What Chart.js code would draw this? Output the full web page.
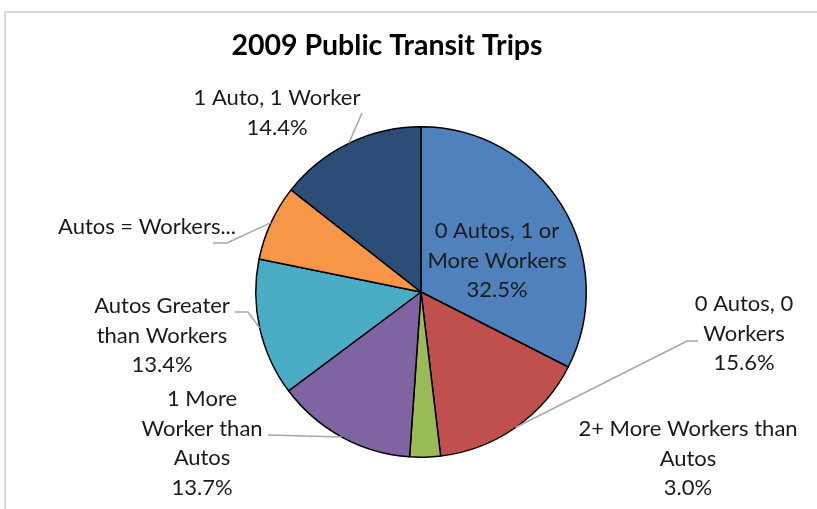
<!DOCTYPE html>
<html>
<head>
<meta charset="utf-8">
<script src="https://cdn.jsdelivr.net/npm/chart.js@4.4.1/dist/chart.umd.min.js"></script>
<style>
  html, body { margin: 0; padding: 0; background: #fff; }
  #wrap { position: relative; width: 817px; height: 509px; }
</style>
</head>
<body>
<div id="wrap"><canvas id="chart" width="817" height="509"></canvas></div>
<script>
const categories = [
  '0 Autos, 1 or More Workers',
  '0 Autos, 0 Workers',
  '2+ More Workers than Autos',
  '1 More Worker than Autos',
  'Autos Greater than Workers',
  'Autos = Workers',
  '1 Auto, 1 Worker'
];
const shares = [32.5, 15.6, 3.0, 13.7, 13.4, 7.4, 14.4];
// label text as wrapped in the picture
const labelLines = [
  ['0 Autos, 1 or', 'More Workers', '32.5%'],
  ['0 Autos, 0', 'Workers', '15.6%'],
  ['2+ More Workers than', 'Autos', '3.0%'],
  ['1 More', 'Worker than', 'Autos', '13.7%'],
  ['Autos Greater', 'than Workers', '13.4%'],
  ['Autos = Workers...'],
  ['1 Auto, 1 Worker', '14.4%']
];
const sliceColors = ['#4F81BD', '#C0504D', '#9BBB59', '#8064A2', '#4BACC6', '#F79646', '#2C4D75'];

// where each label sits (first line centre) and the leader elbow points
const labelLayout = [
  { x: 497, y: 231, leader: null },
  { x: 744, y: 304, leader: [[698, 341], [687, 341]] },
  { x: 688, y: 429, leader: null },
  { x: 202, y: 399, leader: [[268, 435]] },
  { x: 162, y: 306, leader: [[235, 312], [248, 312]] },
  { x: 147, y: 227, leader: [[213, 243], [227, 243]] },
  { x: 277, y: 98, leader: [[362, 113]] }
];

const FONT = 'Lato, "Open Sans", sans-serif';

const labelPlugin = {
  id: 'excelLabels',
  afterDraw(chart) {
    const ctx = chart.ctx;
    ctx.save();
    // chart frame
    ctx.strokeStyle = '#d9d9d9';
    ctx.lineWidth = 2;
    ctx.beginPath();
    ctx.moveTo(5, 509);
    ctx.lineTo(5, 12);
    ctx.lineTo(817, 12);
    ctx.stroke();

    // title
    ctx.fillStyle = '#000';
    ctx.font = 'bold 28.5px ' + FONT;
    ctx.textAlign = 'center';
    ctx.textBaseline = 'middle';
    ctx.fillText('2009 Public Transit Trips', 387, 46);

    const arcs = chart.getDatasetMeta(0).data;
    arcs.forEach((arc, i) => {
      const lay = labelLayout[i];
      if (lay.leader) {
        const mid = (arc.startAngle + arc.endAngle) / 2;
        const ex = arc.x + Math.cos(mid) * arc.outerRadius;
        const ey = arc.y + Math.sin(mid) * arc.outerRadius;
        ctx.strokeStyle = '#a6a6a6';
        ctx.lineWidth = 1.5;
        ctx.beginPath();
        ctx.moveTo(lay.leader[0][0], lay.leader[0][1]);
        for (let k = 1; k < lay.leader.length; k++) ctx.lineTo(lay.leader[k][0], lay.leader[k][1]);
        ctx.lineTo(ex, ey);
        ctx.stroke();
      }
      ctx.fillStyle = '#1a1a1a';
      ctx.font = '22px ' + FONT;
      ctx.textAlign = 'center';
      ctx.textBaseline = 'middle';
      labelLines[i].forEach((line, j) => {
        ctx.fillText(line, lay.x, lay.y + j * 29.5);
      });
    });
    ctx.restore();
  }
};

new Chart(document.getElementById('chart'), {
  type: 'pie',
  data: {
    labels: categories,
    datasets: [{
      data: shares,
      backgroundColor: sliceColors,
      borderColor: '#000',
      borderWidth: 1.5
    }]
  },
  options: {
    responsive: false,
    animation: false,
    layout: { padding: { top: 126, bottom: 51, left: 255, right: 230 } },
    plugins: {
      legend: { display: false },
      tooltip: { enabled: false },
      title: { display: false }
    }
  },
  plugins: [labelPlugin]
});
</script>
</body>
</html>
